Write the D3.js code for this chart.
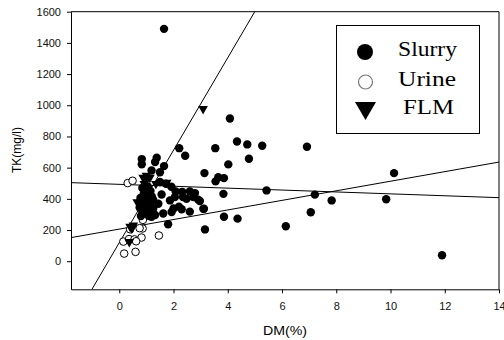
<!DOCTYPE html>
<html>
<head>
<meta charset="utf-8">
<script src="https://cdn.jsdelivr.net/npm/d3@7"></script>
<style>
  body { margin: 0; background: #fff; }
  svg { display: block; }
  .tick text { font-family: "Liberation Sans", Arial, sans-serif; font-size: 11px; fill: #111; }
</style>
</head>
<body>
<svg width="504" height="340"></svg>
<script>
// slurry (filled circles)
const slurryX = [1.65, 4.08, 4.34, 4.72, 5.27, 6.92, 3.54, 4.78, 4.02, 3.14, 10.13, 3.65, 3.86, 3.55,
  5.43, 3.84, 7.21, 7.83, 9.84, 2.97, 3.12, 3.86, 4.36, 7.06, 3.16, 6.14, 11.9, 2.21, 2.43,
  0.83, 0.83, 1.38, 1.32, 1.65, 1.19, 1.5,
  1.5, 1.72, 1.92, 2.08, 2.32, 2.6, 2.79, 2.91, 2.6, 1.56, 1.87, 2.05, 2.35, 2.48, 2.73, 2.2, 2.0,
  2.3, 1.93, 1.62, 1.32, 1.19, 1.8, 1.44, 1.25, 3.1,
  0.85, 1.0, 1.15, 0.9, 1.05, 1.2, 0.78, 0.95, 1.1, 1.25, 0.85, 1.0, 1.15, 0.75, 0.92, 1.08, 1.2,
  0.85, 1.0, 1.1, 0.8, 0.95, 1.05];
const slurryY = [1490, 915, 768, 749, 740, 734, 725, 657, 621, 565, 565, 538, 533, 512,
  454, 432, 427, 390, 397, 386, 337, 285, 273, 314, 204, 224, 38, 725, 676,
  655, 622, 664, 636, 610, 582, 571,
  508, 497, 478, 447, 445, 448, 437, 395, 318, 428, 390, 411, 411, 401, 411, 350, 338,
  333, 316, 306, 296, 285, 237, 369, 337, 336,
  470, 455, 450, 430, 420, 415, 405, 395, 390, 395, 370, 365, 360, 345, 340, 330, 320,
  315, 305, 290, 290, 420, 480];

// urine (open circles)
const urineX = [0.31, 0.49, 0.87, 0.86, 0.4, 0.82, 1.46, 0.15, 0.36, 0.56, 0.62, 0.18, 0.6, 0.75];
const urineY = [501, 516, 265, 210, 205, 152, 165, 126, 142, 140, 128, 49, 60, 212];

// FLM (triangles)
const flmX = [3.09, 0.88, 0.97, 1.13, 1.35, 1.75, 0.92, 0.66, 0.79, 0.52, 0.4, 0.46, 0.37, 1.0, 0.95, 1.05];
const flmY = [977, 536, 514, 536, 497, 504, 497, 380, 378, 230, 222, 210, 124, 550, 330, 400];

// regression lines: intercept, slope
const fitIntercepts = [119, 493, 206];
const fitSlopes = [296.5, -6.1, 30.7];

const xTicks = [0, 2, 4, 6, 8, 10, 12, 14];
const yTicks = [0, 200, 400, 600, 800, 1000, 1200, 1400, 1600];
const legendLabels = ['Slurry', 'Urine', 'FLM'];

const pLeft = 71, pRight = 499, pTop = 11.7, pBottom = 289.3;

const svg = d3.select('svg');
const x = d3.scaleLinear().domain([-1.78, 14]).range([pLeft, pRight]);
const y = d3.scaleLinear().domain([-180, 1600]).range([pBottom, pTop]);

svg.append('defs').append('clipPath').attr('id', 'plot')
  .append('rect')
  .attr('x', pLeft).attr('y', pTop)
  .attr('width', pRight - pLeft).attr('height', pBottom - pTop);

// frame top / right
svg.append('line').attr('x1', pLeft).attr('x2', pRight).attr('y1', pTop).attr('y2', pTop)
  .attr('stroke', '#000');
svg.append('line').attr('x1', pRight).attr('x2', pRight).attr('y1', pTop).attr('y2', pBottom)
  .attr('stroke', '#000');

svg.append('g')
  .attr('transform', `translate(${pLeft},0)`)
  .call(d3.axisLeft(y).tickValues(yTicks).tickFormat(d3.format('d'))
    .tickSize(4).tickSizeOuter(0).tickPadding(6));

svg.append('g')
  .attr('transform', `translate(0,${pBottom})`)
  .call(d3.axisBottom(x).tickValues(xTicks).tickFormat(d3.format('d'))
    .tickSize(4).tickSizeOuter(0).tickPadding(9));

svg.selectAll('.domain, .tick line').attr('stroke', '#000');

svg.append('text')
  .attr('transform', 'translate(21,150) rotate(-90)')
  .attr('text-anchor', 'middle')
  .attr('font-family', 'Liberation Sans, Arial, sans-serif')
  .attr('font-size', 12)
  .text('TK(mg/l)');

svg.append('text')
  .attr('x', 285).attr('y', 335)
  .attr('text-anchor', 'middle')
  .attr('font-family', 'Liberation Sans, Arial, sans-serif')
  .attr('font-size', 12)
  .attr('textLength', 44)
  .attr('lengthAdjust', 'spacingAndGlyphs')
  .text('DM(%)');

// fit lines
const plot = svg.append('g').attr('clip-path', 'url(#plot)');
const xd = x.domain();
plot.selectAll('line.fit')
  .data(fitIntercepts.map((b, i) => ({ b, m: fitSlopes[i] })))
  .join('line')
  .attr('class', 'fit')
  .attr('x1', x(xd[0])).attr('x2', x(xd[1]))
  .attr('y1', d => y(d.b + d.m * xd[0]))
  .attr('y2', d => y(d.b + d.m * xd[1]))
  .attr('stroke', '#000').attr('stroke-width', 1);

const tri = d3.symbol().type(d3.symbolTriangle);

// urine
plot.selectAll('circle.urine')
  .data(urineX.map((v, i) => [v, urineY[i]]))
  .join('circle')
  .attr('class', 'urine')
  .attr('cx', d => x(d[0])).attr('cy', d => y(d[1]))
  .attr('r', 3.8)
  .attr('fill', '#fff').attr('stroke', '#000').attr('stroke-width', 1);

// slurry
plot.selectAll('circle.slurry')
  .data(slurryX.map((v, i) => [v, slurryY[i]]))
  .join('circle')
  .attr('class', 'slurry')
  .attr('cx', d => x(d[0])).attr('cy', d => y(d[1]))
  .attr('r', 4.2)
  .attr('fill', '#000');

// flm
plot.selectAll('path.flm')
  .data(flmX.map((v, i) => [v, flmY[i]]))
  .join('path')
  .attr('class', 'flm')
  .attr('d', tri.size(40))
  .attr('transform', d => `translate(${x(d[0])},${y(d[1])}) rotate(180)`)
  .attr('fill', '#000');

// legend
const lg = svg.append('g');
lg.append('rect')
  .attr('x', 336.5).attr('y', 25.5).attr('width', 143).attr('height', 108)
  .attr('fill', '#fff').attr('stroke', '#000');

const rowY = [52, 82, 110];
const textY = [56, 86, 114];
const textX = [398, 398, 403];

lg.append('circle').attr('cx', 365).attr('cy', rowY[0]).attr('r', 8).attr('fill', '#000');
lg.append('circle').attr('cx', 365.5).attr('cy', rowY[1]).attr('r', 7)
  .attr('fill', '#fff').attr('stroke', '#777').attr('stroke-width', 1.2);
lg.append('path')
  .attr('d', 'M-10.5,-8 L10.5,-8 L0,10 Z')
  .attr('transform', `translate(365.5,${rowY[2]})`)
  .attr('fill', '#000');

lg.selectAll('text')
  .data(legendLabels)
  .join('text')
  .attr('x', (d, i) => textX[i]).attr('y', (d, i) => textY[i])
  .attr('font-family', 'Liberation Serif, Times New Roman, serif')
  .attr('font-size', 21)
  .attr('textLength', (d, i) => [59, 58, 51][i])
  .attr('lengthAdjust', 'spacingAndGlyphs')
  .text(d => d);
</script>
</body>
</html>
